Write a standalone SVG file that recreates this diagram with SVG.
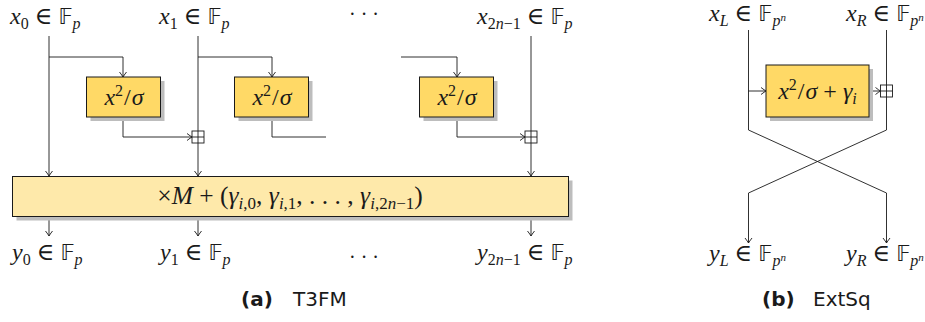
<svg xmlns="http://www.w3.org/2000/svg" width="925" height="322" viewBox="0 0 925 322">
<style>
.ln{stroke:#1a1a1a;stroke-width:0.9;fill:none}
.box{fill:#FFD966;stroke:#1a1a1a;stroke-width:1}
.big{fill:#FEE9AA;stroke:#1a1a1a;stroke-width:1}
.sh{fill:#BDBDBD;stroke:none}
.m{font-family:"Liberation Serif","DejaVu Serif",serif;font-size:24px;fill:#1a1a1a}
.i{font-style:italic}
.s{font-size:16px}
.bb{font-family:"DejaVu Sans","Noto Sans",sans-serif;font-size:21px}
.cap{font-family:"DejaVu Sans","Liberation Sans",sans-serif;font-size:20px;fill:#1a1a1a}
.b{font-weight:bold}
.dots{font-family:"Liberation Serif","DejaVu Serif",serif;font-size:20px;fill:#1a1a1a}
</style>
<defs>
<marker id="ar" viewBox="-6 -5 7 10" refX="0" refY="0" markerWidth="7" markerHeight="10" orient="auto" markerUnits="userSpaceOnUse">
<path d="M-5,-3.5 Q-1.5,-0.8 0,0 Q-1.5,0.8 -5,3.5" fill="none" stroke="#1a1a1a" stroke-width="0.9"/>
</marker>
</defs>

<g id="connectors">
<path class="ln" d="M49,36 V176" marker-end="url(#ar)"/>
<path class="ln" d="M49,57 H123 V77" marker-end="url(#ar)"/>
<path class="ln" d="M123,117 V137 H192" marker-end="url(#ar)"/>
<path class="ln" d="M198,36 V176" marker-end="url(#ar)"/>
<path class="ln" d="M198,57 H272 V77" marker-end="url(#ar)"/>
<path class="ln" d="M272,117 V137 H326"/>
<path class="ln" d="M401,57 H457 V77" marker-end="url(#ar)"/>
<path class="ln" d="M457,117 V137 H525" marker-end="url(#ar)"/>
<path class="ln" d="M531,36 V176" marker-end="url(#ar)"/>
<path class="ln" d="M49,217 V236" marker-end="url(#ar)"/>
<path class="ln" d="M198,217 V236" marker-end="url(#ar)"/>
<path class="ln" d="M531,217 V236" marker-end="url(#ar)"/>
<path class="ln" d="M748.5,30 V130 L886.5,193 V243" marker-end="url(#ar)"/>
<path class="ln" d="M886.5,30 V130 L748.5,193 V243" marker-end="url(#ar)"/>
<path class="ln" d="M748.5,91 H766" marker-end="url(#ar)"/>
<path class="ln" d="M869,91 H880.5" marker-end="url(#ar)"/>
</g>

<g id="add1"><rect x="192" y="131" width="12" height="12" fill="#fff" stroke="#1a1a1a" stroke-width="0.9"/><path class="ln" d="M198,131 V143 M192,137 H204"/></g>
<g id="add2"><rect x="525" y="131" width="12" height="12" fill="#fff" stroke="#1a1a1a" stroke-width="0.9"/><path class="ln" d="M531,131 V143 M525,137 H537"/></g>
<g id="add3"><rect x="880.5" y="85" width="12" height="12" fill="#fff" stroke="#1a1a1a" stroke-width="0.9"/><path class="ln" d="M886.5,85 V97 M880.5,91 H892.5"/></g>

<g id="sq1">
<rect class="sh" x="90.5" y="81" width="74" height="40"/>
<rect class="box" x="86.5" y="77" width="74" height="40"/>
<text class="m" x="124" y="105" text-anchor="middle"><tspan class="i">x</tspan><tspan class="s" dy="-9">2</tspan><tspan dy="9" dx="1">/</tspan><tspan class="i" dx="1">σ</tspan></text>
</g>
<g id="sq2">
<rect class="sh" x="238.5" y="81" width="74" height="40"/>
<rect class="box" x="234.5" y="77" width="74" height="40"/>
<text class="m" x="272" y="105" text-anchor="middle"><tspan class="i">x</tspan><tspan class="s" dy="-9">2</tspan><tspan dy="9" dx="1">/</tspan><tspan class="i" dx="1">σ</tspan></text>
</g>
<g id="sq3">
<rect class="sh" x="423.5" y="81" width="74" height="40"/>
<rect class="box" x="419.5" y="77" width="74" height="40"/>
<text class="m" x="457" y="105" text-anchor="middle"><tspan class="i">x</tspan><tspan class="s" dy="-9">2</tspan><tspan dy="9" dx="1">/</tspan><tspan class="i" dx="1">σ</tspan></text>
</g>
<g id="mix">
<rect class="sh" x="16.5" y="180.5" width="556" height="40"/>
<rect class="big" x="12.5" y="176.5" width="556" height="40"/>
<text class="m" x="290" y="204" text-anchor="middle" style="font-size:25.5px">×<tspan class="i">M</tspan> + (<tspan class="i">γ</tspan><tspan class="i" style="font-size:17px" dy="5">i</tspan><tspan style="font-size:17px">,0</tspan><tspan dy="-5">, </tspan><tspan class="i">γ</tspan><tspan class="i" style="font-size:17px" dy="5">i</tspan><tspan style="font-size:17px">,1</tspan><tspan dy="-5">, . . . , </tspan><tspan class="i">γ</tspan><tspan class="i" style="font-size:17px" dy="5">i</tspan><tspan style="font-size:17px">,2<tspan class="i">n</tspan>−1</tspan><tspan dy="-5">)</tspan></text>
</g>
<g id="ext">
<rect class="sh" x="770" y="69" width="103" height="52"/>
<rect class="box" x="766" y="65" width="103" height="52"/>
<text class="m" x="817.5" y="99" text-anchor="middle"><tspan class="i">x</tspan><tspan class="s" dy="-9">2</tspan><tspan dy="9" dx="1">/</tspan><tspan class="i" dx="1">σ</tspan> + <tspan class="i">γ</tspan><tspan class="s i" dy="5">i</tspan></text>
</g>

<g id="labels">
<text class="m" x="10" y="24"><tspan class="i">x</tspan><tspan class="s" dy="5">0</tspan><tspan dy="-5"> ∈ </tspan><tspan class="bb">𝔽</tspan><tspan class="s i" dy="5">p</tspan></text>
<text class="m" x="159" y="24"><tspan class="i">x</tspan><tspan class="s" dy="5">1</tspan><tspan dy="-5"> ∈ </tspan><tspan class="bb">𝔽</tspan><tspan class="s i" dy="5">p</tspan></text>
<text class="dots" x="364" y="21" text-anchor="middle">·  ·  ·</text>
<text class="m" x="477" y="24"><tspan class="i">x</tspan><tspan class="s" dy="5">2<tspan class="i">n</tspan>−1</tspan><tspan dy="-5"> ∈ </tspan><tspan class="bb">𝔽</tspan><tspan class="s i" dy="5">p</tspan></text>
<text class="m" x="12" y="260"><tspan class="i">y</tspan><tspan class="s" dy="5">0</tspan><tspan dy="-5"> ∈ </tspan><tspan class="bb">𝔽</tspan><tspan class="s i" dy="5">p</tspan></text>
<text class="m" x="160" y="260"><tspan class="i">y</tspan><tspan class="s" dy="5">1</tspan><tspan dy="-5"> ∈ </tspan><tspan class="bb">𝔽</tspan><tspan class="s i" dy="5">p</tspan></text>
<text class="dots" x="364" y="264" text-anchor="middle">·  ·  ·</text>
<text class="m" x="477" y="260"><tspan class="i">y</tspan><tspan class="s" dy="5">2<tspan class="i">n</tspan>−1</tspan><tspan dy="-5"> ∈ </tspan><tspan class="bb">𝔽</tspan><tspan class="s i" dy="5">p</tspan></text>
<text class="m" x="709" y="21"><tspan class="i">x</tspan><tspan class="s i" dy="5">L</tspan><tspan dy="-5"> ∈ </tspan><tspan class="bb">𝔽</tspan><tspan class="s i" dy="5">p<tspan style="font-size:11px" dy="-5">n</tspan></tspan></text>
<text class="m" x="846" y="21"><tspan class="i">x</tspan><tspan class="s i" dy="5">R</tspan><tspan dy="-5"> ∈ </tspan><tspan class="bb">𝔽</tspan><tspan class="s i" dy="5">p<tspan style="font-size:11px" dy="-5">n</tspan></tspan></text>
<text class="m" x="709" y="261"><tspan class="i">y</tspan><tspan class="s i" dy="5">L</tspan><tspan dy="-5"> ∈ </tspan><tspan class="bb">𝔽</tspan><tspan class="s i" dy="5">p<tspan style="font-size:11px" dy="-5">n</tspan></tspan></text>
<text class="m" x="846" y="261"><tspan class="i">y</tspan><tspan class="s i" dy="5">R</tspan><tspan dy="-5"> ∈ </tspan><tspan class="bb">𝔽</tspan><tspan class="s i" dy="5">p<tspan style="font-size:11px" dy="-5">n</tspan></tspan></text>
</g>

<g id="captions">
<text class="cap b" x="241" y="306">(a)</text>
<text class="cap" x="293" y="306">T3FM</text>
<text class="cap b" x="762" y="306">(b)</text>
<text class="cap" x="813" y="306">ExtSq</text>
</g>
</svg>
